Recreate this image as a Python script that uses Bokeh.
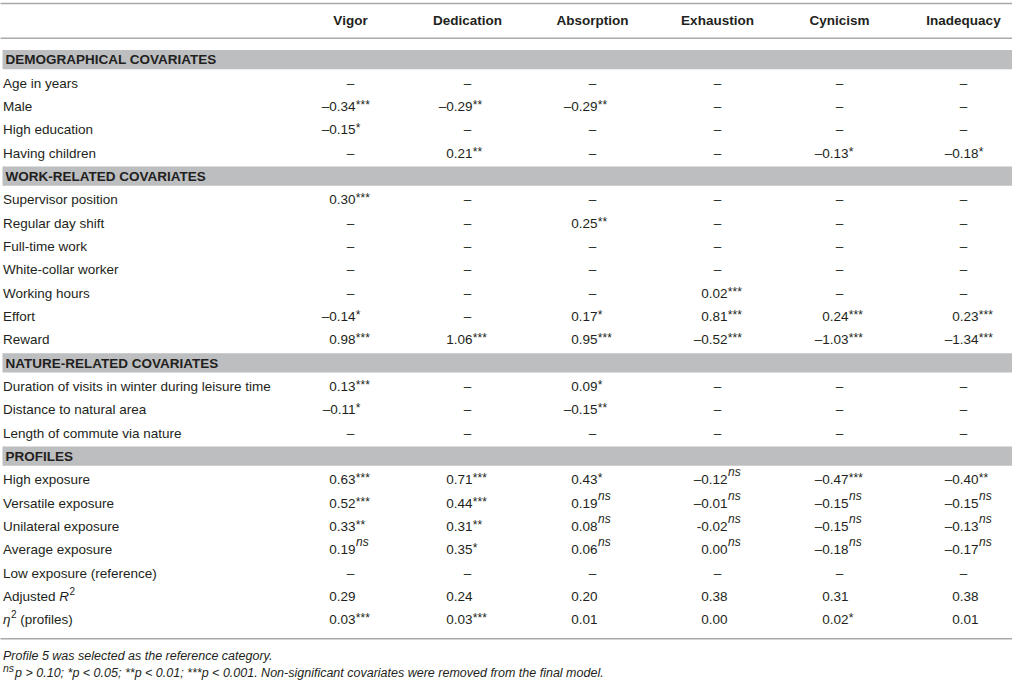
from bokeh.plotting import figure
from bokeh.models import Range1d
from bokeh.embed import file_html
from bokeh.resources import INLINE
from bokeh.core.properties import value

# ---------------- data ----------------
columns = ["Vigor", "Dedication", "Absorption", "Exhaustion", "Cynicism", "Inadequacy"]

section_titles = ["DEMOGRAPHICAL COVARIATES", "WORK-RELATED COVARIATES",
                  "NATURE-RELATED COVARIATES", "PROFILES"]
demographic_labels = ["Age in years", "Male", "High education", "Having children"]
work_labels = ["Supervisor position", "Regular day shift", "Full-time work",
               "White-collar worker", "Working hours", "Effort", "Reward"]
nature_labels = ["Duration of visits in winter during leisure time",
                 "Distance to natural area", "Length of commute via nature"]
profile_labels = ["High exposure", "Versatile exposure", "Unilateral exposure",
                  "Average exposure", "Low exposure (reference)",
                  "Adjusted R²", "η² (profiles)"]

# None = "–" (covariate removed / reference)
vigor_est = [None, "–0.34", "–0.15", None, "0.30", None, None, None, None, "–0.14", "0.98",
             "0.13", "–0.11", None, "0.63", "0.52", "0.33", "0.19", None, "0.29", "0.03"]
vigor_sig = ["", "***", "*", "", "***", "", "", "", "", "*", "***",
             "***", "*", "", "***", "***", "**", "ns", "", "", "***"]

dedication_est = [None, "–0.29", None, "0.21", None, None, None, None, None, None, "1.06",
                  None, None, None, "0.71", "0.44", "0.31", "0.35", None, "0.24", "0.03"]
dedication_sig = ["", "**", "", "**", "", "", "", "", "", "", "***",
                  "", "", "", "***", "***", "**", "*", "", "", "***"]

absorption_est = [None, "–0.29", None, None, None, "0.25", None, None, None, "0.17", "0.95",
                  "0.09", "–0.15", None, "0.43", "0.19", "0.08", "0.06", None, "0.20", "0.01"]
absorption_sig = ["", "**", "", "", "", "**", "", "", "", "*", "***",
                  "*", "**", "", "*", "ns", "ns", "ns", "", "", ""]

exhaustion_est = [None, None, None, None, None, None, None, None, "0.02", "0.81", "–0.52",
                  None, None, None, "–0.12", "–0.01", "-0.02", "0.00", None, "0.38", "0.00"]
exhaustion_sig = ["", "", "", "", "", "", "", "", "***", "***", "***",
                  "", "", "", "ns", "ns", "ns", "ns", "", "", ""]

cynicism_est = [None, None, None, "–0.13", None, None, None, None, None, "0.24", "–1.03",
                None, None, None, "–0.47", "–0.15", "–0.15", "–0.18", None, "0.31", "0.02"]
cynicism_sig = ["", "", "", "*", "", "", "", "", "", "***", "***",
                "", "", "", "***", "ns", "ns", "ns", "", "", "*"]

inadequacy_est = [None, None, None, "–0.18", None, None, None, None, None, "0.23", "–1.34",
                  None, None, None, "–0.40", "–0.15", "–0.13", "–0.17", None, "0.38", "0.01"]
inadequacy_sig = ["", "", "", "*", "", "", "", "", "", "***", "***",
                  "", "", "", "**", "ns", "ns", "ns", "", "", ""]

footnote_1 = "Profile 5 was selected as the reference category."
footnote_2_sup = "ns"
footnote_2 = ("p > 0.10; *p < 0.05; **p < 0.01; ***p < 0.001. "
              "Non-significant covariates were removed from the final model.")

# ---------------- layout / style ----------------
FONT = "Liberation Sans"
INK = "#231f20"
BAND = "#bcbec0"
RULE = "#a7a9ac"
FS = 13.5          # body font size px
HEADER_Y = 20
ROW0 = 59.6        # centre of first section band
STEP = 23.43       # row pitch
COL_X = [350, 467, 592, 717, 839, 963]
NUM_RIGHT = [5, 5, 5, 10, 9, 15]   # right edge of numbers relative to column centre
LABEL_X = 2.5
BASE = 0.0          # baseline offset relative to row centre (renderer places text lower)

# Arial/Liberation advance widths (per 1000 em) for composed labels
AW = {'A': 667, 'd': 556, 'j': 222, 'u': 556, 's': 500, 't': 278, 'e': 556, ' ': 278,
      'R': 722, '2': 556, 'η': 556, 'n': 556}


def tw(s, size):
    return sum(AW.get(c, 556) for c in s) * size / 1000.0


W, H = 1012, 680
p = figure(width=W, height=H, x_range=Range1d(0, W), y_range=Range1d(683, 0),
           output_backend="svg", toolbar_location=None, min_border=0,
           x_axis_location=None, y_axis_location=None)
p.grid.visible = False
p.outline_line_color = None
p.background_fill_color = "white"
p.border_fill_color = "white"


def txt(xs, ys, texts, size, style="normal", align="left", color=INK):
    if not texts:
        return
    p.text(x=xs, y=ys, text=texts, text_font=value(FONT), text_font_size=value(f"{size}px"),
           text_font_style=style, text_align=align, text_baseline="alphabetic",
           text_color=color)


# rules
for ry in [3, 38, 641]:
    p.segment(x0=[-10], y0=[ry], x1=[1030], y1=[ry], line_color=RULE, line_width=1.5)

# header
txt(COL_X, [HEADER_Y + BASE] * len(columns), columns, FS, "bold", "center")

# rows
sections = [demographic_labels, work_labels, nature_labels, profile_labels]
label_rows = []
i = 0
band_y = []
for title, labels in zip(section_titles, sections):
    band_y.append(ROW0 + STEP * i)
    i += 1
    for lab in labels:
        label_rows.append((lab, ROW0 + STEP * i))
        i += 1

p.quad(left=[2] * len(band_y), right=[1013] * len(band_y),
       top=[c - 10 for c in band_y], bottom=[c + 9.4 for c in band_y],
       fill_color=BAND, line_color=None)
txt([5] * len(band_y), [c + BASE for c in band_y], section_titles, FS, "bold")

plain_x, plain_y, plain_t = [], [], []
for lab, y in label_rows:
    if "²" in lab:
        k = lab.index("²")
        pre, ital, post = lab[:k - 1], lab[k - 1], lab[k + 1:]
        x = LABEL_X
        if pre:
            txt([x], [y + BASE], [pre.strip()], FS)
            x += tw(pre, FS)
        txt([x], [y + BASE], [ital], FS, "italic")
        x += tw(ital, FS) + 0.5
        txt([x], [y + BASE - 5.5], ["2"], 10)
        x += tw("2", 10)
        if post:
            lead = len(post) - len(post.lstrip())
            x += tw(" " * lead, FS)
            txt([x], [y + BASE], [post.strip()], FS)
    else:
        plain_x.append(LABEL_X)
        plain_y.append(y + BASE)
        plain_t.append(lab)
txt(plain_x, plain_y, plain_t, FS)

# cells
col_est = [vigor_est, dedication_est, absorption_est, exhaustion_est, cynicism_est, inadequacy_est]
col_sig = [vigor_sig, dedication_sig, absorption_sig, exhaustion_sig, cynicism_sig, inadequacy_sig]
dash_x, dash_y = [], []
num_x, num_y, num_t = [], [], []
star_x, star_y, star_t = [], [], []
ns_x, ns_y = [], []
for j, (ests, sigs) in enumerate(zip(col_est, col_sig)):
    for (lab, y), est, sig in zip(label_rows, ests, sigs):
        if est is None:
            dash_x.append(COL_X[j])
            dash_y.append(y + BASE)
            continue
        ax = COL_X[j] + NUM_RIGHT[j]
        num_x.append(ax)
        num_y.append(y + BASE)
        num_t.append(est)
        if sig == "ns":
            ns_x.append(ax + 0.5)
            ns_y.append(y + BASE - 7.5)
        elif sig:
            star_x.append(ax + 0.3)
            star_y.append(y + BASE - 1.5)
            star_t.append(sig)

txt(dash_x, dash_y, ["–"] * len(dash_x), FS, align="center")
txt(num_x, num_y, num_t, FS, align="right")
txt(star_x, star_y, star_t, 12)
txt(ns_x, ns_y, ["ns"] * len(ns_x), 12, "italic")

# footnotes
txt([LABEL_X], [658.5 + BASE], [footnote_1], 12.5, "italic")
txt([LABEL_X], [675.5 + BASE - 5], [footnote_2_sup], 10.5, "italic")
txt([LABEL_X + tw(footnote_2_sup, 10.5) + 1], [675.5 + BASE], [footnote_2], 12.5, "italic")

open("out.html", "w").write(file_html(p, INLINE))
